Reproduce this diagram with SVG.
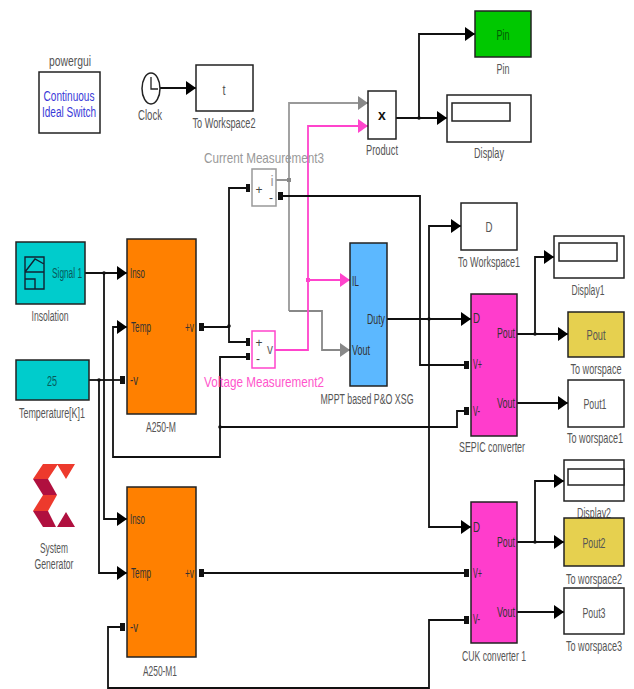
<svg xmlns="http://www.w3.org/2000/svg" width="634" height="689" viewBox="0 0 634 689">
<style>
text{font-family:"Liberation Sans",Arial,sans-serif;font-size:14px;fill:#555;text-anchor:middle}
.b{stroke:#222;stroke-width:1.5;fill:#fff}
.p{fill:#333}
.s{text-anchor:start}
.e{text-anchor:end}
.w{fill:none;stroke:#111;stroke-width:1.8}
.k{marker-end:url(#ak)}
.g{fill:none;stroke:#999;stroke-width:1.8}
.m{fill:none;stroke:#ff44cc;stroke-width:1.8}
.pt{fill:#111}
.sg{fill:#444;font-size:12px}
</style>
<defs>
<marker id="ak" markerUnits="userSpaceOnUse" markerWidth="10" markerHeight="14" refX="10" refY="7" orient="auto"><path d="M0 0L10 7L0 14Z" fill="#000"/></marker>
<marker id="ag" markerUnits="userSpaceOnUse" markerWidth="10" markerHeight="14" refX="10" refY="7" orient="auto"><path d="M0 0L10 7L0 14Z" fill="#888"/></marker>
<marker id="am" markerUnits="userSpaceOnUse" markerWidth="10" markerHeight="14" refX="10" refY="7" orient="auto"><path d="M0 0L10 7L0 14Z" fill="#ff44cc"/></marker>
</defs>
<g id="connectors">
<path class="w k" d="M160 88H196"/>
<path class="w k" d="M396 118H447"/>
<path class="w k" d="M419 118V34H475"/>
<circle class="pt" cx="419" cy="118" r="1.8"/>
<path class="g" d="M276 180H289" style="stroke:#888"/>
<path class="g" d="M289 311V103H368" marker-end="url(#ag)"/>
<path class="g" d="M289 311H322V350H350" style="stroke:#888" marker-end="url(#ag)"/>
<rect x="287" y="178" width="4" height="4" fill="#888"/>
<path class="m" d="M275 350H308V126H368" marker-end="url(#am)"/>
<path class="m" d="M308 280H350" marker-end="url(#am)"/>
<rect x="306" y="278" width="4" height="4" fill="#ff44cc"/>
<path class="w" d="M204 327H229M248 188H229V342H248"/>
<circle class="pt" cx="229" cy="326" r="1.8"/>
<rect class="pt" x="199" y="323" width="5" height="8"/>
<rect class="pt" x="246" y="184" width="4" height="8"/>
<rect class="pt" x="246" y="338" width="4" height="8"/>
<path class="w" d="M280 196H420V365H466"/>
<rect class="pt" x="278" y="192" width="5" height="8"/>
<rect class="pt" x="464" y="361" width="5" height="8"/>
<path class="w k" d="M248 357H220V457H113V327H127"/>
<rect class="pt" x="246" y="353" width="4" height="7"/>
<path class="w" d="M220 427H457V411H466"/>
<circle class="pt" cx="220" cy="427" r="1.8"/>
<rect class="pt" x="464" y="407" width="5" height="8"/>
<path class="w k" d="M387 319H471"/>
<path class="w k" d="M429 319V226H461"/>
<path class="w k" d="M429 319V527H471"/>
<circle class="pt" cx="429" cy="319" r="1.8"/>
<path class="w k" d="M85 273H127"/>
<path class="w k" d="M104 273V519H127"/>
<circle class="pt" cx="104" cy="273" r="1.8"/>
<path class="w" d="M89 380H120"/>
<rect class="pt" x="120" y="376" width="5" height="8"/>
<path class="w k" d="M99 380V573H127"/>
<circle class="pt" cx="99" cy="380" r="1.8"/>
<path class="w" d="M204 573H466"/>
<rect class="pt" x="199" y="569" width="5" height="8"/>
<rect class="pt" x="464" y="569" width="5" height="8"/>
<path class="w" d="M120 627H108V688H429V620H466"/>
<rect class="pt" x="120" y="623" width="5" height="8"/>
<rect class="pt" x="464" y="616" width="5" height="8"/>
<path class="w k" d="M517 334H568"/>
<path class="w k" d="M535 334V257H554"/>
<circle class="pt" cx="535" cy="334" r="1.8"/>
<path class="w k" d="M517 403H568"/>
<path class="w k" d="M517 542H564"/>
<path class="w k" d="M535 542V481H564"/>
<circle class="pt" cx="535" cy="542" r="1.8"/>
<path class="w k" d="M517 612H564"/>
</g>
<g id="powergui"><rect class="b" x="39" y="72" width="61" height="61"/>
<text x="70" y="66" textLength="42" lengthAdjust="spacingAndGlyphs">powergui</text>
<text x="69" y="101" style="fill:#3a3ad8" textLength="51" lengthAdjust="spacingAndGlyphs">Continuous</text>
<text x="69" y="117" style="fill:#3a3ad8" textLength="54" lengthAdjust="spacingAndGlyphs">Ideal Switch</text></g>
<g id="clock"><ellipse cx="151" cy="88.5" rx="9" ry="15.5" fill="#fff" stroke="#222" stroke-width="1.5"/><path d="M151 77V89H158" fill="none" stroke="#222" stroke-width="1.3"/>
<text x="150" y="120" textLength="24" lengthAdjust="spacingAndGlyphs">Clock</text></g>
<g id="toworkspace2"><rect class="b" x="196" y="65" width="57" height="46"/><text x="224" y="95" textLength="3" lengthAdjust="spacingAndGlyphs">t</text>
<text x="224" y="128" textLength="63" lengthAdjust="spacingAndGlyphs">To Workspace2</text></g>
<g id="current"><rect x="252" y="169" width="24" height="37" fill="#fff" stroke="#999" stroke-width="1.5"/>
<text class="sg" x="259" y="194">+</text><text x="272" y="186" style="fill:#999">i</text><text class="sg" x="271" y="202">-</text>
<text x="264" y="163" style="fill:#999;font-size:15px" textLength="120" lengthAdjust="spacingAndGlyphs">Current Measurement3</text></g>
<g id="voltage"><rect x="252" y="331" width="23" height="37" fill="#fff" stroke="#ff44cc" stroke-width="1.5"/>
<text class="sg" x="259" y="347">+</text><text x="270" y="354" style="fill:#666" textLength="6" lengthAdjust="spacingAndGlyphs">v</text><text class="sg" x="258" y="363">-</text>
<text x="264" y="387" style="fill:#ff55cc;font-size:15px" textLength="120" lengthAdjust="spacingAndGlyphs">Voltage Measurement2</text></g>
<g id="product"><rect class="b" x="368" y="91" width="28" height="48"/><text x="382" y="120" style="fill:#111;font-weight:bold">x</text>
<text x="382" y="155" textLength="32" lengthAdjust="spacingAndGlyphs">Product</text></g>
<g id="pin"><rect class="b" x="475" y="11" width="56" height="46" style="fill:#00c800"/><text x="503" y="40" style="fill:#045a04" textLength="13" lengthAdjust="spacingAndGlyphs">Pin</text>
<text x="503" y="74" textLength="13" lengthAdjust="spacingAndGlyphs">Pin</text></g>
<g id="display"><rect class="b" x="447" y="95" width="84" height="47"/><rect class="b" x="452" y="103" width="58" height="18"/>
<text x="489" y="158" textLength="30" lengthAdjust="spacingAndGlyphs">Display</text></g>
<g id="toworkspace1"><rect class="b" x="461" y="203" width="56" height="47"/><text x="489" y="232" textLength="7" lengthAdjust="spacingAndGlyphs">D</text>
<text x="489" y="267" textLength="62" lengthAdjust="spacingAndGlyphs">To Workspace1</text></g>
<g id="insolation"><rect class="b" x="16" y="242" width="69" height="62" style="fill:#00cccc"/>
<path d="M25 257H44V289H25ZM25 272L35 259L44 264M25 272H44M25 279H35V289" fill="none" stroke="#123" stroke-width="1.4"/>
<text x="67" y="278" style="fill:#075a5a" textLength="30" lengthAdjust="spacingAndGlyphs">Signal 1</text>
<text x="50" y="321" textLength="37" lengthAdjust="spacingAndGlyphs">Insolation</text></g>
<g id="temperature"><rect class="b" x="16" y="360" width="73" height="40" style="fill:#00cccc"/><text x="52" y="386" style="fill:#075a5a" textLength="10" lengthAdjust="spacingAndGlyphs">25</text>
<text x="52" y="418" textLength="66" lengthAdjust="spacingAndGlyphs">Temperature[K]1</text></g>
<g id="a250m"><rect class="b" x="127" y="239" width="69" height="175" style="fill:#ff8000"/>
<text class="p s" x="130" y="278" textLength="15" lengthAdjust="spacingAndGlyphs">Inso</text><text class="p s" x="131" y="332" textLength="20" lengthAdjust="spacingAndGlyphs">Temp</text><text class="p s" x="130" y="385" textLength="8" lengthAdjust="spacingAndGlyphs">-v</text><text class="p e" x="194" y="332" textLength="9" lengthAdjust="spacingAndGlyphs">+v</text>
<text x="161" y="432" textLength="30" lengthAdjust="spacingAndGlyphs">A250-M</text></g>
<g id="a250m1"><rect class="b" x="127" y="487" width="69" height="170" style="fill:#ff8000"/>
<text class="p s" x="130" y="524" textLength="15" lengthAdjust="spacingAndGlyphs">Inso</text><text class="p s" x="131" y="578" textLength="20" lengthAdjust="spacingAndGlyphs">Temp</text><text class="p s" x="130" y="632" textLength="8" lengthAdjust="spacingAndGlyphs">-v</text><text class="p e" x="194" y="578" textLength="9" lengthAdjust="spacingAndGlyphs">+v</text>
<text x="160" y="676" textLength="34" lengthAdjust="spacingAndGlyphs">A250-M1</text></g>
<g id="sysgen"><path d="M43 464H58L48 479H33ZM57 464H75L66 479Z" fill="#ed3a2d"/><path d="M43 495H57L48 511H33Z" fill="#ed3a2d"/><path d="M33 479H48L57 495H43ZM33 511H48L56 527H43ZM57 527L66 512L75 527Z" fill="#b0103f"/>
<text x="54" y="553" textLength="28" lengthAdjust="spacingAndGlyphs">System</text><text x="54" y="569" textLength="39" lengthAdjust="spacingAndGlyphs">Generator</text></g>
<g id="mppt"><rect class="b" x="350" y="243" width="37" height="143" style="fill:#5cb8ff"/>
<text class="p s" x="352" y="286" textLength="7" lengthAdjust="spacingAndGlyphs">IL</text><text class="p s" x="352" y="355" textLength="18" lengthAdjust="spacingAndGlyphs">Vout</text><text class="p e" x="385" y="324" textLength="18" lengthAdjust="spacingAndGlyphs">Duty</text>
<text x="367" y="404" textLength="93" lengthAdjust="spacingAndGlyphs">MPPT based P&amp;O XSG</text></g>
<g id="sepic"><rect class="b" x="471" y="294" width="46" height="142" style="fill:#ff3dcc"/>
<text class="p s" x="473" y="323" textLength="7" lengthAdjust="spacingAndGlyphs">D</text><text class="p s" x="473" y="369" textLength="9" lengthAdjust="spacingAndGlyphs">V+</text><text class="p s" x="473" y="416" textLength="7" lengthAdjust="spacingAndGlyphs">V-</text><text class="p e" x="515" y="338" textLength="18" lengthAdjust="spacingAndGlyphs">Pout</text><text class="p e" x="515" y="408" textLength="18" lengthAdjust="spacingAndGlyphs">Vout</text>
<text x="492" y="452" textLength="66" lengthAdjust="spacingAndGlyphs">SEPIC converter</text></g>
<g id="cuk"><rect class="b" x="471" y="502" width="46" height="141" style="fill:#ff3dcc"/>
<text class="p s" x="473" y="532" textLength="7" lengthAdjust="spacingAndGlyphs">D</text><text class="p s" x="473" y="578" textLength="9" lengthAdjust="spacingAndGlyphs">V+</text><text class="p s" x="473" y="624" textLength="7" lengthAdjust="spacingAndGlyphs">V-</text><text class="p e" x="515" y="547" textLength="18" lengthAdjust="spacingAndGlyphs">Pout</text><text class="p e" x="515" y="617" textLength="18" lengthAdjust="spacingAndGlyphs">Vout</text>
<text x="494" y="661" textLength="64" lengthAdjust="spacingAndGlyphs">CUK converter 1</text></g>
<g id="display1"><rect class="b" x="554" y="236" width="70" height="42"/><rect class="b" x="559" y="243" width="58" height="18"/>
<text x="588" y="295" textLength="33" lengthAdjust="spacingAndGlyphs">Display1</text></g>
<g id="pout"><rect class="b" x="568" y="312" width="56" height="45" style="fill:#e6d04f"/><text x="596" y="340" textLength="19" lengthAdjust="spacingAndGlyphs">Pout</text>
<text transform="translate(596 374) scale(.65 1)">To worspace</text></g>
<g id="pout1"><rect class="b" x="568" y="380" width="56" height="47"/><text x="595" y="409" textLength="23" lengthAdjust="spacingAndGlyphs">Pout1</text>
<text transform="translate(595 443) scale(.65 1)">To worspace1</text></g>
<g id="display2"><text x="594" y="518" textLength="34" lengthAdjust="spacingAndGlyphs">Display2</text><rect class="b" x="564" y="460" width="60" height="41"/><rect class="b" x="568" y="469" width="56" height="16"/></g>
<g id="pout2"><rect class="b" x="564" y="518" width="60" height="48" style="fill:#e6d04f"/><text x="594" y="548" textLength="23" lengthAdjust="spacingAndGlyphs">Pout2</text>
<text transform="translate(594 584) scale(.65 1)">To worspace2</text></g>
<g id="pout3"><rect class="b" x="564" y="588" width="60" height="46"/><text x="594" y="618" textLength="23" lengthAdjust="spacingAndGlyphs">Pout3</text>
<text transform="translate(594 651) scale(.65 1)">To worspace3</text></g>
</svg>
